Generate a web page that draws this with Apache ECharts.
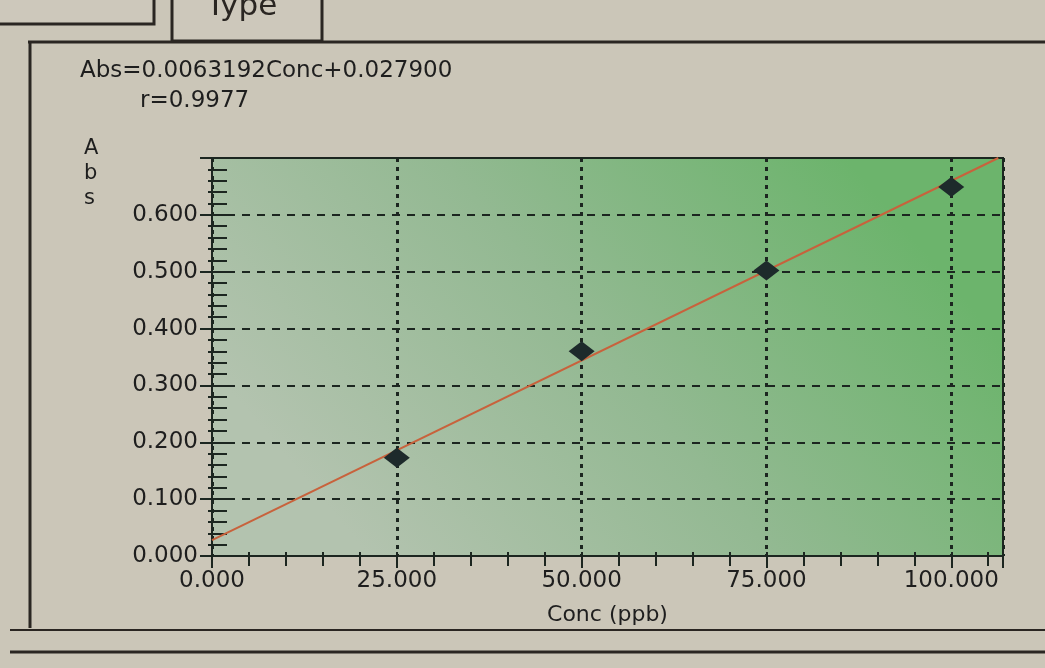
<!DOCTYPE html>
<html>
<head>
<meta charset="utf-8">
<title>Calibration curve</title>
<script src="https://cdn.jsdelivr.net/npm/echarts@6/dist/echarts.min.js"></script>
<style>
  html, body { margin: 0; padding: 0; background: #cbc6b8; }
  #chart { width: 1045px; height: 668px; }
</style>
</head>
<body>
<div id="chart"></div>
<script>
// Standards: concentration (ppb) and measured absorbance
const concentrations = [25, 50, 75, 100];
const absorbances = [0.173, 0.360, 0.502, 0.649];

// Least-squares fit reported by the instrument
const slope = 0.0063192;
const intercept = 0.027900;
const correlation = 0.9977;

// Axis ranges and tick spacing
const xMin = 0, xMax = 107, xMajor = 25, xMinor = 5;
const yMin = 0, yMax = 0.7, yMajor = 0.1, yMinor = 0.02;

const ink = '#1c2620';
const textColor = '#1e1e1e';
const font = 'DejaVu Sans';

const points = concentrations.map((c, i) => [c, absorbances[i]]);
const fitEnd = Math.min(xMax, (yMax - intercept) / slope);
const fitLine = [[0, intercept], [fitEnd, intercept + slope * fitEnd]];

const chart = echarts.init(document.getElementById('chart'), null, { renderer: 'canvas' });

// tick-only axes that share the main scale (minor ticks crossing the axis line)
function tickAxis(position, min, max, interval, inside, length) {
  return {
    type: 'value', position: position, min: min, max: max, interval: interval,
    axisLine: { show: false },
    axisLabel: { show: false },
    splitLine: { show: false },
    axisTick: { inside: inside, length: length, lineStyle: { color: ink, width: 2 } }
  };
}

chart.setOption({
  animation: false,
  backgroundColor: '#cbc6b8',
  grid: {
    left: 212, right: 42, top: 158, bottom: 112,
    show: true,
    borderColor: ink,
    borderWidth: 2,
    backgroundColor: {
      type: 'linear', x: 0.2, y: 1, x2: 0.8, y2: 0,
      colorStops: [
        { offset: 0, color: '#b3c3af' },
        { offset: 0.5, color: '#93b992' },
        { offset: 1, color: '#6cb46c' }
      ]
    }
  },
  xAxis: [
    {
      type: 'value', position: 'bottom', min: xMin, max: xMax, interval: xMajor,
      name: 'Conc (ppb)', nameLocation: 'middle', nameGap: 48,
      nameTextStyle: { fontFamily: font, fontSize: 22, color: textColor },
      axisLine: { lineStyle: { color: ink, width: 2 } },
      axisTick: { length: 12, lineStyle: { color: ink, width: 2 } },
      axisLabel: {
        margin: 14, fontFamily: font, fontSize: 23, color: textColor,
        formatter: v => (v % xMajor === 0 ? v.toFixed(3) : '')
      },
      splitLine: { show: true, lineStyle: { color: ink, width: 3, type: [4, 5] } }
    },
    tickAxis('bottom', xMin, xMax, xMinor, false, 10),
    tickAxis('bottom', xMin, xMax, xMinor, true, 4)
  ],
  yAxis: [
    {
      type: 'value', position: 'left', min: yMin, max: yMax, interval: yMajor,
      axisLine: { lineStyle: { color: ink, width: 2 } },
      axisTick: { length: 12, lineStyle: { color: ink, width: 2 } },
      axisLabel: {
        margin: 14, fontFamily: font, fontSize: 23, color: textColor,
        formatter: v => (v < yMax - 1e-9 ? v.toFixed(3) : '')
      },
      splitLine: { show: true, lineStyle: { color: ink, width: 2, type: [8, 7] } }
    },
    tickAxis('left', yMin, yMax, yMinor, true, 15),
    tickAxis('left', yMin, yMax, yMinor, false, 4)
  ],
  series: [
    {
      name: 'Fit',
      type: 'line',
      data: fitLine,
      symbol: 'none',
      lineStyle: { color: '#c8623c', width: 2 },
      z: 3
    },
    {
      name: 'Standards',
      type: 'scatter',
      data: points,
      symbol: 'diamond',
      symbolSize: [26, 20],
      itemStyle: { color: '#1d2a2b', opacity: 1 },
      z: 4
    }
  ],
  graphic: [
    // window chrome around the graph panel
    { type: 'rect', shape: { x: -4, y: -6, width: 158, height: 30 },
      style: { fill: '#cdc8bb', stroke: '#2a2622', lineWidth: 3 } },
    { type: 'rect', shape: { x: 172, y: -6, width: 150, height: 47 },
      style: { fill: '#cdc8bb', stroke: '#2a2622', lineWidth: 3 } },
    { type: 'text', left: 206, top: -9,
      style: { text: 'Type', fontFamily: font, fontSize: 31, fill: '#2a2622' } },
    { type: 'line', shape: { x1: 28, y1: 42, x2: 1045, y2: 42 },
      style: { stroke: '#2a2622', lineWidth: 3 } },
    { type: 'line', shape: { x1: 30, y1: 42, x2: 30, y2: 628 },
      style: { stroke: '#2a2622', lineWidth: 3 } },
    { type: 'line', shape: { x1: 10, y1: 630, x2: 1045, y2: 630 },
      style: { stroke: '#2a2622', lineWidth: 2 } },
    { type: 'line', shape: { x1: 10, y1: 652, x2: 1045, y2: 652 },
      style: { stroke: '#2a2622', lineWidth: 3 } },
    // fit equation and correlation coefficient
    { type: 'text', left: 80, top: 60,
      style: {
        text: 'Abs=' + slope.toFixed(7) + 'Conc+' + intercept.toFixed(6),
        fontFamily: font, fontSize: 23, fill: textColor
      } },
    { type: 'text', left: 140, top: 90,
      style: { text: 'r=' + correlation.toFixed(4), fontFamily: font, fontSize: 23, fill: textColor } },
    // vertical axis title
    { type: 'text', left: 84, top: 136,
      style: { text: 'A\nb\ns', fontFamily: font, fontSize: 21, lineHeight: 25,
        fill: textColor, align: 'center' } }
  ]
});
</script>
</body>
</html>
